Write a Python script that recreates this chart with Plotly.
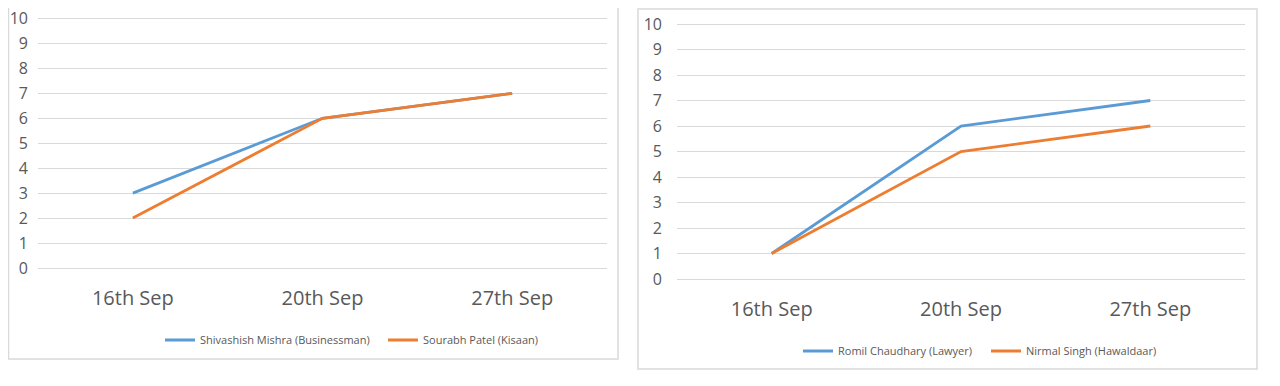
import plotly.graph_objects as go

W, H = 1280, 386

categories = ["16th Sep", "20th Sep", "27th Sep"]
y_ticks = list(range(0, 11))

left_names = ["Shivashish Mishra (Businessman)", "Sourabh Patel (Kisaan)"]
left_blue = [3, 6, 7]
left_orange = [2, 6, 7]

right_names = ["Romil Chaudhary (Lawyer)", "Nirmal Singh (Hawaldaar)"]
right_blue = [1, 6, 7]
right_orange = [1, 5, 6]

BLUE = "#5B9BD5"
ORANGE = "#ED7D31"
GRID = "#D9D9D9"
TXT = "#595959"
FONT = "Open Sans"

OX, OY = 8, 8  # page offset (body margin) compensation
RMAX = 10.06   # tiny headroom so the top gridline is drawn


def px_x(p):
    return (p - OX) / W


def px_y(p):
    return (H - (p - OY)) / H


def ydomain(y0_px, y10_px):
    unit = (y0_px - y10_px) / 10.0
    top = y10_px - (RMAX - 10) * unit
    return [px_y(y0_px), px_y(top)]


fig = go.Figure()

fig.add_trace(go.Scatter(x=categories, y=left_blue, name=left_names[0], mode="lines",
                         line=dict(color=BLUE, width=2.8), xaxis="x", yaxis="y", legend="legend"))
fig.add_trace(go.Scatter(x=categories, y=left_orange, name=left_names[1], mode="lines",
                         line=dict(color=ORANGE, width=2.8), xaxis="x", yaxis="y", legend="legend"))
fig.add_trace(go.Scatter(x=categories, y=right_blue, name=right_names[0], mode="lines",
                         line=dict(color=BLUE, width=2.8), xaxis="x2", yaxis="y2", legend="legend2"))
fig.add_trace(go.Scatter(x=categories, y=right_orange, name=right_names[1], mode="lines",
                         line=dict(color=ORANGE, width=2.8), xaxis="x2", yaxis="y2", legend="legend2"))

xax = dict(type="category", range=[-0.5, 2.5], showgrid=False, showline=False, zeroline=False,
           ticks="", tickfont=dict(family=FONT, size=20, color=TXT), ticklabelstandoff=16,
           fixedrange=True, automargin=False)
yax = dict(range=[0, RMAX], tickvals=y_ticks, showgrid=True, gridcolor=GRID, gridwidth=1.2,
           zeroline=True, zerolinecolor=GRID, zerolinewidth=1.2, showline=False, ticks="",
           tickfont=dict(family=FONT, size=16, color=TXT), ticklabelstandoff=14, fixedrange=True,
           automargin=False, ticklabeloverflow="allow")

legend_common = dict(orientation="h", bgcolor="rgba(0,0,0,0)",
                     font=dict(family=FONT, size=11, color=TXT), yanchor="middle",
                     xanchor="left", itemclick=False, itemdoubleclick=False,
                     entrywidthmode="pixels")

fig.update_layout(
    width=W, height=H, autosize=False,
    margin=dict(l=0, r=0, t=0, b=0, pad=0, autoexpand=False),
    paper_bgcolor="white", plot_bgcolor="white",
    showlegend=True,
    xaxis=dict(xax, domain=[px_x(38), px_x(607)], anchor="y"),
    yaxis=dict(yax, domain=ydomain(268, 18.5), anchor="x", ticklabelstandoff=9),
    xaxis2=dict(xax, domain=[px_x(677), px_x(1245)], anchor="y2"),
    yaxis2=dict(yax, domain=ydomain(279, 24), anchor="x2"),
    legend=dict(legend_common, x=px_x(160), y=px_y(340), entrywidth=178),
    legend2=dict(legend_common, x=px_x(798), y=px_y(351), entrywidth=143),
    shapes=[
        dict(type="rect", xref="paper", yref="paper", x0=px_x(8.5), x1=px_x(618),
             y0=px_y(359), y1=px_y(-3), line=dict(color=GRID, width=1.5), layer="below"),
        dict(type="rect", xref="paper", yref="paper", x0=px_x(638), x1=px_x(1257),
             y0=px_y(369), y1=px_y(9), line=dict(color=GRID, width=1.5), layer="below"),
    ],
)

fig.write_html("out.html")
